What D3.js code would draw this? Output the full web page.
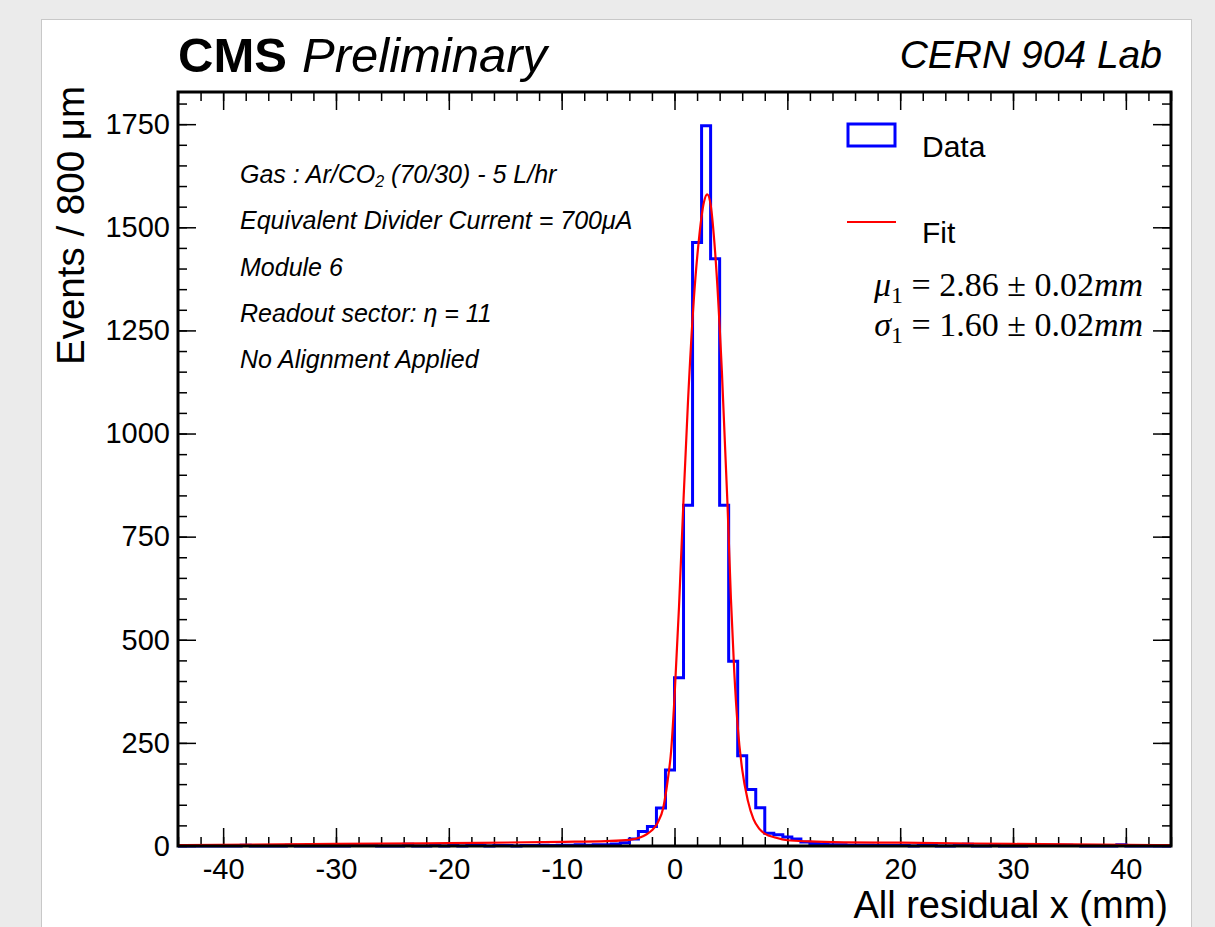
<!DOCTYPE html>
<html>
<head>
<meta charset="utf-8">
<script src="https://cdn.jsdelivr.net/npm/d3@7"></script>
<style>
  body { margin: 0; background: #ebebeb; }
  text { font-family: "Liberation Sans", Arial, sans-serif; fill: #000; }
  .tick text { font-size: 29px; font-family: "Liberation Sans", Arial, sans-serif; }
</style>
</head>
<body>
<div id="chart"></div>
<script>
// histogram: 110 bins of 0.8 mm from -44 to 44 mm
const binLow = -44;
const binWidth = 0.8;
const counts = [
  0, 0, 0, 0, 0, 0, 0, 2, 0, 0,
  0, 0, 2, 0, 0, 0, 0, 0, 0, 1,
  2, 1, 0, 0, 0, 4, 0, 0, 1, 0,
  1, 0, 1, 1, 0, 1, 1, 0, 1, 1,
  2, 1, 2, 2, 3, 2, 3, 3, 5, 8,
  17, 35, 47, 92, 184, 408, 826, 1463, 1746, 1424,
  826, 448, 219, 137, 93, 31, 27, 22, 17, 10,
  6, 4, 3, 3, 2, 2, 2, 1, 1, 1,
  1, 0, 1, 5, 0, 0, 1, 4, 0, 0,
  1, 0, 0, 0, 2, 1, 2, 2, 2, 1,
  0, 0, 0, 0, 3, 0, 0, 0, 0, 0
];

// fit curve
const fitX = [-44, -30, -20, -10, -6, -4, -3, -2.5, -2, -1.5, -1, -0.6, -0.3,
  0, 0.4, 0.8, 1.2, 1.7, 2.2, 2.6, 2.9, 3.2, 3.6, 4.2, 4.7,
  5.0, 5.3, 5.6, 6.0, 6.5, 7.0, 7.5, 8.0, 9.0, 10, 12, 15, 20, 30, 44];
const fitY = [2, 5, 7, 10, 12, 15, 21, 28, 38, 56, 92, 160, 230,
  360, 580, 840, 1080, 1320, 1480, 1560, 1580, 1555, 1440, 1150, 826,
  600, 420, 290, 185, 110, 65, 42, 30, 20, 14, 11, 9, 8, 5, 2];

const xMajor = [-40, -30, -20, -10, 0, 10, 20, 30, 40];
const yMajor = [0, 250, 500, 750, 1000, 1250, 1500, 1750];

const infoLines = [
  "Gas : Ar/CO|2| (70/30) - 5 L/hr",
  "Equivalent Divider Current = 700μA",
  "Module 6",
  "Readout sector: η = 11",
  "No Alignment Applied"
];

const width = 1215, height = 927;
const fLeft = 178, fRight = 1171, fTop = 92, fBottom = 846;

const svg = d3.select('#chart')
  .append('svg')
    .attr('width', width)
    .attr('height', height)
    .style('display', 'block');

// white pad
svg.append('rect')
  .attr('x', 41.5).attr('y', 19.5)
  .attr('width', 1150).attr('height', 930)
  .attr('fill', '#fff')
  .attr('stroke', '#c8c8c8')
  .attr('stroke-width', 1);

const x = d3.scaleLinear().domain([-44, 44]).range([fLeft, fRight]);
const y = d3.scaleLinear().domain([0, 1828]).range([fBottom, fTop]);

const xMinor = d3.range(-44, 44.01, 2);
const yMinor = d3.range(0, 1828, 50);

function drawAxis(axis, tx, ty) {
  const g = svg.append('g')
    .attr('transform', `translate(${tx},${ty})`)
    .call(axis);
  g.select('.domain').remove();
  g.selectAll('line').attr('stroke', '#000').attr('stroke-width', 1.5);
  return g;
}

const plain = d => String(d);

// minor ticks on all four sides
drawAxis(d3.axisBottom(x).tickValues(xMinor).tickSize(-9).tickFormat(''), 0, fBottom);
drawAxis(d3.axisTop(x).tickValues(xMinor).tickSize(-9).tickFormat(''), 0, fTop);
drawAxis(d3.axisLeft(y).tickValues(yMinor).tickSize(-9).tickFormat(''), fLeft, 0);
drawAxis(d3.axisRight(y).tickValues(yMinor).tickSize(-9).tickFormat(''), fRight, 0);

// major ticks
drawAxis(d3.axisBottom(x).tickValues(xMajor).tickSize(-18).tickPadding(12).tickFormat(plain), 0, fBottom);
drawAxis(d3.axisTop(x).tickValues(xMajor).tickSize(-18).tickFormat(''), 0, fTop);
drawAxis(d3.axisLeft(y).tickValues(yMajor).tickSize(-18).tickPadding(8).tickFormat(plain), fLeft, 0);
drawAxis(d3.axisRight(y).tickValues(yMajor).tickSize(-18).tickFormat(''), fRight, 0);
svg.selectAll('.tick text').attr('fill', '#000');

// histogram outline
const histPts = counts.map((c, i) => [binLow + i * binWidth, c]);
histPts.push([binLow + counts.length * binWidth, counts[counts.length - 1]]);

svg.append('path')
  .datum(histPts)
  .attr('fill', 'none')
  .attr('stroke', '#0000ff')
  .attr('stroke-width', 3)
  .attr('d', d3.line()
    .x(d => x(d[0]))
    .y(d => y(d[1]))
    .curve(d3.curveStepAfter));

// fit
svg.append('path')
  .datum(fitX.map((v, i) => [v, fitY[i]]))
  .attr('fill', 'none')
  .attr('stroke', '#ff0000')
  .attr('stroke-width', 2.2)
  .attr('d', d3.line()
    .x(d => x(d[0]))
    .y(d => y(d[1]))
    .curve(d3.curveMonotoneX));

// frame
svg.append('rect')
  .attr('x', fLeft).attr('y', fTop)
  .attr('width', fRight - fLeft).attr('height', fBottom - fTop)
  .attr('fill', 'none')
  .attr('stroke', '#000')
  .attr('stroke-width', 3);

// titles
svg.append('text')
  .attr('x', 178).attr('y', 72)
  .style('font-size', '49px')
  .style('font-weight', 'bold')
  .text('CMS');
svg.append('text')
  .attr('x', 302).attr('y', 72)
  .style('font-size', '49px')
  .style('font-style', 'italic')
  .text('Preliminary');

svg.append('text')
  .attr('x', 1162).attr('y', 68)
  .attr('text-anchor', 'end')
  .style('font-size', '39px')
  .style('font-style', 'italic')
  .text('CERN 904 Lab');

svg.append('text')
  .attr('transform', 'translate(84,86) rotate(-90)')
  .attr('text-anchor', 'end')
  .style('font-size', '38.5px')
  .text('Events / 800 μm');

svg.append('text')
  .attr('x', 1168).attr('y', 918)
  .attr('text-anchor', 'end')
  .style('font-size', '38px')
  .text('All residual x (mm)');

// info block
const infoY = [183, 229, 276, 322, 368];
infoLines.forEach((line, i) => {
  const t = svg.append('text')
    .attr('x', 240).attr('y', infoY[i])
    .style('font-size', '25px')
    .style('font-style', 'italic');
  line.split('|').forEach((part, j) => {
    const s = t.append('tspan').text(part);
    if (j === 1) s.attr('dy', 4).style('font-size', '16px');
    if (j === 2) s.attr('dy', -4);
  });
});

// legend
svg.append('rect')
  .attr('x', 848).attr('y', 124)
  .attr('width', 47).attr('height', 22)
  .attr('fill', 'none')
  .attr('stroke', '#0000ff')
  .attr('stroke-width', 3);
svg.append('text')
  .attr('x', 922).attr('y', 157)
  .style('font-size', '30px')
  .text('Data');

svg.append('line')
  .attr('x1', 847).attr('x2', 896)
  .attr('y1', 222).attr('y2', 222)
  .attr('stroke', '#ff0000')
  .attr('stroke-width', 2);
svg.append('text')
  .attr('x', 922).attr('y', 243)
  .style('font-size', '30px')
  .text('Fit');

const fitLabels = [
  { sym: 'μ', val: '2.86 ± 0.02', yy: 296 },
  { sym: 'σ', val: '1.60 ± 0.02', yy: 336 }
];
fitLabels.forEach(f => {
  const t = svg.append('text')
    .attr('x', 1143).attr('y', f.yy)
    .attr('text-anchor', 'end')
    .style('font-family', '"Liberation Serif", "Times New Roman", serif')
    .style('font-size', '34px');
  t.append('tspan').style('font-style', 'italic').text(f.sym);
  t.append('tspan').attr('dy', 7).style('font-size', '24px').text('1');
  t.append('tspan').attr('dy', -7).text(' = ' + f.val);
  t.append('tspan').style('font-style', 'italic').text('mm');
});
</script>
</body>
</html>
